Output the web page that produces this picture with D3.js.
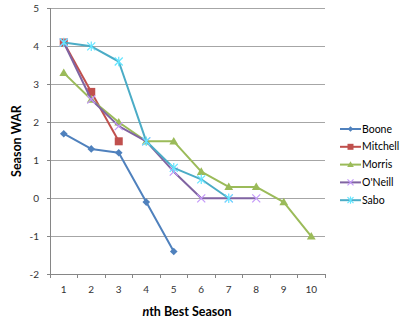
<!DOCTYPE html>
<html><head><meta charset="utf-8">
<script src="https://cdn.jsdelivr.net/npm/d3@7"></script>
<style>body{margin:0;background:#fff}svg{display:block}</style>
</head><body>
<svg id="c" width="400" height="324"></svg>
<script>
const seasons = [1,2,3,4,5,6,7,8,9,10];
const yTicks = [-2,-1,0,1,2,3,4,5];
const names = ["Boone","Mitchell","Morris","O'Neill","Sabo"];
const boone = [1.7,1.3,1.2,-0.1,-1.4];
const mitchell = [4.1,2.8,1.5];
const morris = [3.3,2.6,2.0,1.5,1.5,0.7,0.3,0.3,-0.1,-1.0];
const oneill = [4.1,2.6,1.9,1.5,0.7,0.0,0.0,0.0];
const sabo = [4.1,4.0,3.6,1.5,0.8,0.5,0.0];
const seriesVals = [boone,mitchell,morris,oneill,sabo];
const colors = ["#4F81BD","#C0504D","#9BBB59","#8064A2","#4BACC6"];
const markers = ["diamond","square","triangle","x","star"];

const svg = d3.select("#c");
const L=50,R=325,T=8.3,B=274.3;
const x = d3.scaleBand().domain(seasons).range([L,R]);
const y = d3.scaleLinear().domain([-2,5]).range([B,T]);
const font = "Lato, 'Open Sans', sans-serif";

// gridlines
svg.append("g").selectAll("line").data(yTicks.filter(d=>d!==-2)).join("line")
  .attr("x1",L).attr("x2",R).attr("y1",d=>y(d)).attr("y2",d=>y(d))
  .attr("stroke","#A6A6A6").attr("stroke-width",1).attr("shape-rendering","crispEdges");

// y axis
const ya = svg.append("g").attr("transform",`translate(${L},0)`)
  .call(d3.axisLeft(y).tickValues(yTicks).tickFormat(d=>String(d)).tickSize(3).tickPadding(8));
ya.select(".domain").attr("stroke","#868686").attr("shape-rendering","crispEdges");
ya.selectAll(".tick line").attr("stroke","#868686").attr("shape-rendering","crispEdges");
ya.selectAll("text").attr("font-family",font).attr("font-size",10).attr("fill","#333");

// x axis
const xa = svg.append("g").attr("transform",`translate(0,${B})`)
  .call(d3.axisBottom(x).tickSize(0).tickPadding(12));
xa.select(".domain").attr("stroke","#868686").attr("shape-rendering","crispEdges");
xa.selectAll("text").attr("font-family",font).attr("font-size",10).attr("fill","#333");
// tick marks at band boundaries
const bounds = seasons.map(s=>x(s)).concat([R]);
xa.selectAll(".bt").data(bounds).join("line").attr("class","bt")
  .attr("x1",d=>d).attr("x2",d=>d).attr("y1",0).attr("y2",4)
  .attr("stroke","#868686").attr("shape-rendering","crispEdges");

// axis titles
const xt = svg.append("text").attr("x",187).attr("y",316).attr("text-anchor","middle")
  .attr("font-family",font).attr("font-size",12.5).attr("font-weight","bold").attr("fill","#000");
xt.append("tspan").attr("font-style","italic").text("n");
xt.append("tspan").text("th Best Season");
svg.append("text").attr("transform","translate(21,141) rotate(-90)").attr("text-anchor","middle")
  .attr("font-family",font).attr("font-size",12.5).attr("font-weight","bold").attr("fill","#000")
  .text("Season WAR");

function drawMarker(g, type, cx, cy, color, s){
  if(type==="diamond"){
    g.append("path").attr("d",`M${cx},${cy-s}L${cx+s},${cy}L${cx},${cy+s}L${cx-s},${cy}Z`).attr("fill",color);
  } else if(type==="square"){
    g.append("rect").attr("x",cx-s).attr("y",cy-s).attr("width",2*s).attr("height",2*s).attr("fill",color);
  } else if(type==="triangle"){
    g.append("path").attr("d",`M${cx},${cy-s*1.1}L${cx+s*1.1},${cy+s*0.8}L${cx-s*1.1},${cy+s*0.8}Z`).attr("fill",color);
  } else if(type==="x"){
    g.append("path").attr("d",`M${cx-s},${cy-s}L${cx+s},${cy+s}M${cx-s},${cy+s}L${cx+s},${cy-s}`)
      .attr("stroke",d3.color(color).brighter(1.2)).attr("stroke-width",1.2);
  } else if(type==="star"){
    g.append("path").attr("d",`M${cx-s},${cy-s}L${cx+s},${cy+s}M${cx-s},${cy+s}L${cx+s},${cy-s}M${cx},${cy-s*1.2}L${cx},${cy+s*1.2}`)
      .attr("stroke",d3.color(color).brighter(0.8)).attr("stroke-width",1.2);
  }
}
const msize = [3.8,4,4,4,4];

const line = d3.line().x((d,i)=>x(seasons[i])+x.bandwidth()/2).y(d=>y(d));
seriesVals.forEach((vals,k)=>{
  const g = svg.append("g");
  g.append("path").attr("d",line(vals)).attr("fill","none").attr("stroke",colors[k])
    .attr("stroke-width",2).attr("stroke-linejoin","round");
  vals.forEach((v,i)=>drawMarker(g,markers[k],x(seasons[i])+x.bandwidth()/2,y(v),colors[k],msize[k]));
});

// legend
const lg = svg.append("g");
names.forEach((n,k)=>{
  const yy = 129 + k*17.8;
  lg.append("line").attr("x1",340).attr("x2",361).attr("y1",yy).attr("y2",yy)
    .attr("stroke",colors[k]).attr("stroke-width",2);
  drawMarker(lg,markers[k],350.5,yy,colors[k],msize[k]*0.75);
  lg.append("text").attr("x",362).attr("y",yy).attr("dy","0.35em")
    .attr("font-family",font).attr("font-size",10.5).attr("fill","#000").text(n);
});
</script>
</body></html>
